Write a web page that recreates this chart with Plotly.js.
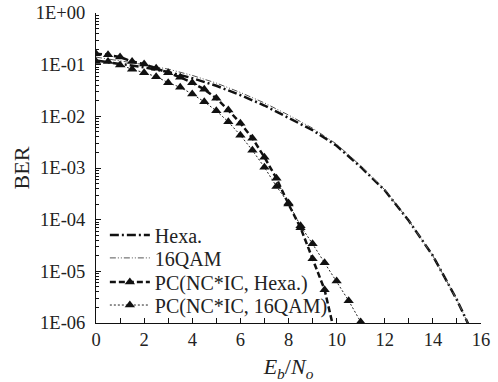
<!DOCTYPE html>
<html>
<head>
<meta charset="utf-8">
<script src="https://cdn.plot.ly/plotly-3.0.1.min.js"></script>
<style>html,body{margin:0;padding:0;background:#fff;}#chart{width:498px;height:382px;}</style>
</head>
<body>
<div id="chart"></div>
<script>
// Theoretical curves
const xTheory = [0, 1, 2, 3, 4, 5, 6, 7, 8, 9, 10, 11, 12, 13, 14, 15, 15.5];
const berHexa = [0.120, 0.105, 0.089, 0.072, 0.055, 0.039, 0.0257, 0.0162, 0.0095, 0.0054, 0.0027, 1.05e-3, 3.7e-4, 9.5e-5, 2.0e-5, 2.8e-6, 8.9e-7];
const ber16QAM = [0.140, 0.120, 0.100, 0.082, 0.062, 0.044, 0.029, 0.0182, 0.0106, 0.0059, 0.0029, 1.1e-3, 3.8e-4, 9.6e-5, 2.0e-5, 2.8e-6, 9.0e-7];

// Simulated PC(NC*IC) curves
const xPCHexa = [0, 0.5, 1, 1.5, 2, 2.5, 3, 3.5, 4, 4.5, 5, 5.5, 6, 6.5, 7, 7.5, 8, 8.5, 9, 9.5, 10];
const berPCHexa = [0.162, 0.155, 0.140, 0.115, 0.103, 0.085, 0.070, 0.057, 0.0448, 0.0333, 0.0223, 0.0132, 0.00738, 0.00377, 0.00161, 6.3e-4, 2.0e-4, 7.0e-5, 1.75e-5, 4.4e-6, 4.4e-7];
const xPC16QAM = [0, 0.5, 1, 1.5, 2, 2.5, 3, 3.5, 4, 4.5, 5, 5.5, 6, 6.5, 7, 7.5, 8, 8.5, 9, 9.5, 10, 10.5, 11];
const berPC16QAM = [0.115, 0.115, 0.0989, 0.0816, 0.070, 0.0586, 0.0448, 0.0365, 0.027, 0.0191, 0.0128, 0.00782, 0.00431, 0.0022, 0.00103, 4.4e-4, 2.1e-4, 7.6e-5, 3.4e-5, 1.47e-5, 6.5e-6, 2.7e-6, 1.05e-6];

const seriesNames = ['Hexa.', '16QAM', 'PC(NC*IC, Hexa.)', 'PC(NC*IC, 16QAM)'];
const yTickVals = [1, 0.1, 0.01, 0.001, 1e-4, 1e-5, 1e-6];
const yTickText = ['1E+00', '1E-01', '1E-02', '1E-03', '1E-04', '1E-05', '1E-06'];

const FONT = 'Liberation Serif, Times New Roman, serif';

const traces = [
  {x: xTheory, y: berHexa, name: seriesNames[0], mode: 'lines', legend: 'legend',
   line: {color: '#111', width: 2.5, dash: '9px,3px,2px,3px'}},
  {x: xTheory, y: ber16QAM, name: seriesNames[1], mode: 'lines', legend: 'legend2',
   line: {color: '#555', width: 1, dash: '6px,2px,1px,2px,1px,2px'}},
  {x: xPCHexa, y: berPCHexa, name: seriesNames[2], mode: 'lines+markers', legend: 'legend3',
   line: {color: '#111', width: 2.5, dash: '6px,3px'},
   marker: {symbol: 'triangle-up', size: 9, color: '#111'}},
  {x: xPC16QAM, y: berPC16QAM, name: seriesNames[3], mode: 'lines+markers', legend: 'legend4',
   line: {color: '#222', width: 1, dash: '2px,2px'},
   marker: {symbol: 'triangle-up', size: 9, color: '#111'}}
];

function leg(yPos) {
  return {x: 0.023, y: yPos, xanchor: 'left', yanchor: 'middle',
          bgcolor: 'rgba(0,0,0,0)', itemwidth: 40,
          font: {family: FONT, size: 20, color: '#222'}};
}

const layout = {
  width: 498, height: 382,
  margin: {l: 96, r: 17, t: 13, b: 59},
  paper_bgcolor: '#fff', plot_bgcolor: '#fff',
  font: {family: FONT, color: '#222', size: 18.5},
  showlegend: true,
  legend: leg(0.284),
  legend2: leg(0.210),
  legend3: leg(0.132),
  legend4: leg(0.058),
  xaxis: {
    range: [0, 16], dtick: 2, tick0: 0,
    showline: true, linecolor: '#111', linewidth: 1,
    ticks: 'inside', ticklen: 5, tickcolor: '#111',
    minor: {ticks: 'inside', ticklen: 5, dtick: 1, tickcolor: '#111', showgrid: false},
    showgrid: false, zeroline: false,
    tickfont: {family: FONT, size: 18.5, color: '#222'},
    title: {text: '<i>E<sub>b</sub></i>/<i>N<sub>o</sub></i>', font: {family: FONT, size: 22, color: '#222'}, standoff: 18}
  },
  yaxis: {
    type: 'log', range: [-6, 0],
    tickmode: 'array', tickvals: yTickVals, ticktext: yTickText,
    showline: true, linecolor: '#111', linewidth: 1,
    ticks: 'inside', ticklen: 5, tickcolor: '#111',
    minor: {ticks: 'inside', ticklen: 3, dtick: 'D1', tickcolor: '#111', showgrid: false},
    showgrid: false, zeroline: false,
    tickfont: {family: FONT, size: 18.5, color: '#222'},
    ticklabelstandoff: 6,
    title: {text: 'BER', font: {family: FONT, size: 22, color: '#222'}, standoff: 0}
  }
};

Plotly.newPlot('chart', traces, layout, {displayModeBar: false, staticPlot: true});
</script>
</body>
</html>
